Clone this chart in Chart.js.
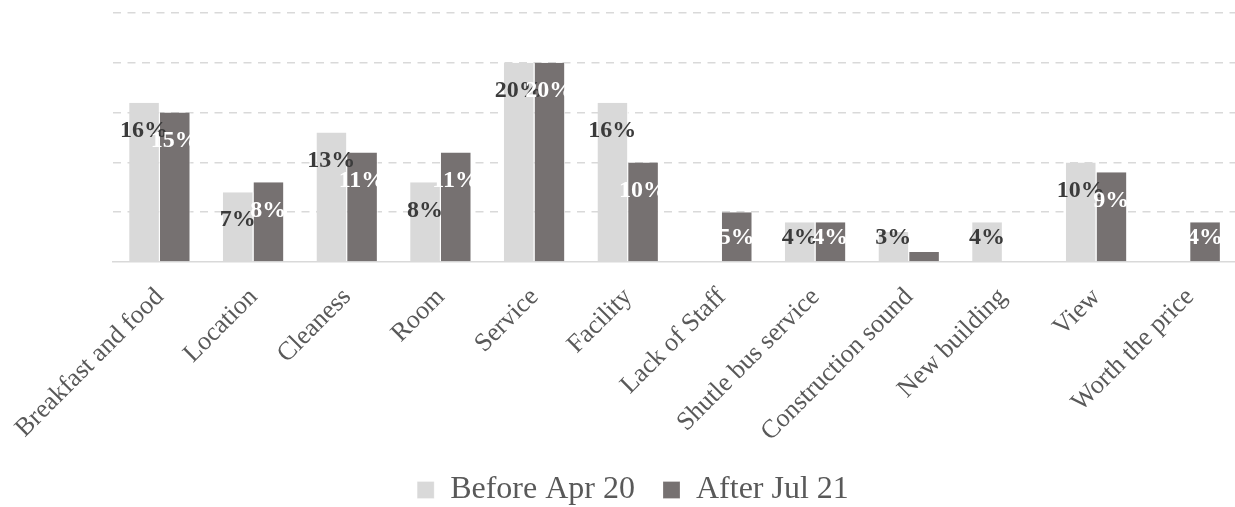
<!DOCTYPE html>
<html>
<head>
<meta charset="utf-8">
<title>Review topics</title>
<script src="https://cdn.jsdelivr.net/npm/chart.js@4.4.1/dist/chart.umd.min.js"></script>
<style>
  html, body { margin: 0; padding: 0; background: #ffffff; overflow: hidden; }
  #wrap { width: 1237px; height: 507px; position: relative; }
</style>
</head>
<body>
<div id="wrap"><canvas id="chart"></canvas></div>
<script>
// Share of reviews mentioning each topic (%)
const categories = [
  'Breakfast and food', 'Location', 'Cleaness', 'Room', 'Service', 'Facility',
  'Lack of Staff', 'Shutle bus service', 'Construction sound', 'New building',
  'View', 'Worth the price'
];
const beforeApr20 = [16, 7, 13, 8, 20, 16, 0, 4, 3, 4, 10, 0];
const afterJul21  = [15, 8, 11, 11, 20, 10, 5, 4, 1, 0, 9, 4];
const seriesNames = ['Before Apr 20', 'After Jul 21'];
const yTicks = [0, 5, 10, 15, 20, 25];

const SERIF = '"Liberation Serif", "Times New Roman", Times, serif';
const barColors = ['#d9d9d9', '#767171'];
const labelColors = ['#3b3b3b', '#ffffff'];

// Percentage labels placed just inside the top of each bar
const valueLabels = {
  id: 'valueLabels',
  afterDatasetsDraw(chart) {
    const { ctx } = chart;
    const base = chart.scales.y.getPixelForValue(0);
    ctx.save();
    ctx.font = 'bold 24px ' + SERIF;
    ctx.textAlign = 'center';
    ctx.textBaseline = 'middle';
    chart.data.datasets.forEach((ds, di) => {
      const meta = chart.getDatasetMeta(di);
      ctx.fillStyle = labelColors[di];
      meta.data.forEach((bar, i) => {
        const v = ds.data[i];
        if (!v) return;
        const y = Math.min(bar.y + 28, base - 24);
        ctx.fillText(v + '%', bar.x - 0.5, y);
      });
    });
    ctx.restore();
  }
};

new Chart(document.getElementById('chart'), {
  type: 'bar',
  data: {
    labels: categories,
    datasets: [
      {
        label: seriesNames[0],
        data: beforeApr20,
        backgroundColor: barColors[0],
        borderColor: '#ffffff',
        borderWidth: { top: 0, right: 1, bottom: 0, left: 0 },
        borderSkipped: false,
        categoryPercentage: 0.655,
        barPercentage: 1.0
      },
      {
        label: seriesNames[1],
        data: afterJul21,
        backgroundColor: barColors[1],
        borderColor: '#ffffff',
        borderWidth: { top: 0, right: 1, bottom: 0, left: 0 },
        borderSkipped: false,
        categoryPercentage: 0.655,
        barPercentage: 1.0
      }
    ]
  },
  options: {
    responsive: true,
    maintainAspectRatio: false,
    animation: false,
    layout: { padding: { left: 29, top: 13, right: 0, bottom: 0 } },
    plugins: {
      tooltip: { enabled: false },
      legend: {
        position: 'bottom',
        maxHeight: 61,
        labels: {
          boxWidth: 17,
          boxHeight: 17,
          padding: 28,
          color: '#595959',
          font: { family: SERIF, size: 32 }
        }
      }
    },
    scales: {
      x: {
        grid: { display: false, drawTicks: false },
        border: { display: true, color: '#d9d9d9', width: 1.5 },
        ticks: {
          autoSkip: false,
          minRotation: 45,
          maxRotation: 45,
          padding: 20,
          color: '#595959',
          font: { family: SERIF, size: 26 }
        },
        afterFit(scale) {
          scale.height = 184;
          scale.paddingLeft = 0;
          scale.paddingRight = 0;
        }
      },
      y: {
        min: yTicks[0],
        max: yTicks[yTicks.length - 1],
        afterBuildTicks(scale) { scale.ticks = yTicks.map(v => ({ value: v })); },
        ticks: { display: false },
        border: { display: false, dash: [8, 6.5] },
        grid: {
          drawTicks: false,
          lineWidth: 1.5,
          color: ctx => (ctx.tick && ctx.tick.value === 0 ? 'rgba(0,0,0,0)' : '#d9d9d9')
        },
        afterFit(scale) { scale.width = 84; }
      }
    }
  },
  plugins: [valueLabels]
});
</script>
</body>
</html>
